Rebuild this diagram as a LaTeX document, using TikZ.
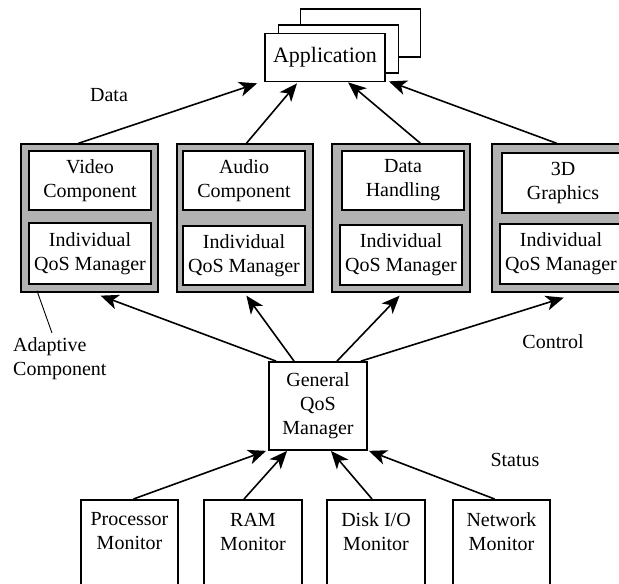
\documentclass[tikz,border=0pt]{standalone}
\usepackage{fontspec}
\setmainfont{Liberation Serif}
\usetikzlibrary{arrows.meta,calc}
\begin{document}
\begin{tikzpicture}[x=1pt,y=-1pt,
  txt/.style={font=\fontsize{20}{24}\selectfont},
  wbox/.style={draw, line width=1.7pt, fill=white, align=center, inner sep=0pt, txt},
  gbox/.style={draw, line width=1.3pt, fill=gray!60, inner sep=0pt},
  lbl/.style={align=center, inner sep=0pt, txt},
  arr/.style={line width=1.6pt, -{Stealth[length=18pt,width=15pt,inset=5pt]}},
  thin line/.style={line width=0.9pt}
]
\useasboundingbox (0,0) rectangle (619,584);

% application stack
\node[wbox, minimum width=120, minimum height=48] (app3) at (360.5,33) {};
\node[wbox, minimum width=120, minimum height=48] (app2) at (338.5,49) {};
\node[wbox, minimum width=120, minimum height=48, font=\fontsize{22}{26}\selectfont] (app) at (325,57.5) {Application};

% adaptive components (outer)
\node[gbox, minimum width=137, minimum height=148] (vidc) at (89.5,218) {};
\node[gbox, minimum width=136, minimum height=148] (audc) at (245,218) {};
\node[gbox, minimum width=138, minimum height=148] (datc) at (401,218) {};
\node[gbox, minimum width=138, minimum height=148] (gfxc) at (561,218) {};

% inner boxes
\node[wbox, minimum width=122, minimum height=59] (vid) at (90,180.5) {Video\\Component};
\node[wbox, minimum width=122, minimum height=61] (vidq) at (90,253.5) {Individual\\QoS Manager};
\node[wbox, minimum width=122, minimum height=59] (aud) at (244,180.5) {Audio\\Component};
\node[wbox, minimum width=122, minimum height=59] (audq) at (244,255.5) {Individual\\QoS Manager};
\node[wbox, minimum width=122, minimum height=59] (dat) at (403,180.5) {Data\\Handling};
\node[wbox, minimum width=122, minimum height=60] (datq) at (401,255) {Individual\\QoS Manager};
\node[wbox, minimum width=122, minimum height=60] (gfx) at (563,183) {3D\\Graphics};
\node[wbox, minimum width=122, minimum height=60] (gfxq) at (561,254) {Individual\\QoS Manager};

% general manager
\node[wbox, minimum width=98, minimum height=88] (gen) at (318,406) {General\\QoS\\Manager};

% monitors
\node[wbox, minimum width=97, minimum height=110, anchor=north] (pm) at (129.5,499) {};
\node[wbox, minimum width=98, minimum height=110, anchor=north] (rm) at (253,499) {};
\node[wbox, minimum width=98, minimum height=110, anchor=north] (dm) at (376,499) {};
\node[wbox, minimum width=97, minimum height=110, anchor=north] (nm) at (501.5,499) {};
\node[lbl] (pmt) at (129.5,531.5) {Processor\\Monitor};
\node[lbl] (rmt) at (253,531.5) {RAM\\Monitor};
\node[lbl] (dmt) at (376,531.5) {Disk I/O\\Monitor};
\node[lbl] (nmt) at (501.5,531.5) {Network\\Monitor};

% labels
\node[lbl] (datalbl) at (109,95) {Data};
\node[lbl] (ctrllbl) at (553,342) {Control};
\node[lbl] (statlbl) at (515,460) {Status};
\node[lbl, align=left, anchor=north west] (adl) at (13,337) {Adaptive\\Component};

% data arrows
\draw[arr] ($(vidc.north west)!0.42!(vidc.north east)$) -- ($(app.south west)+(-7,1)$);
\draw[arr] ($(audc.north west)!0.51!(audc.north east)$) -- ($(app.south west)!0.27!(app.south east)+(0,1)$);
\draw[arr] ($(datc.north west)!0.64!(datc.north east)$) -- ($(app.south west)!0.69!(app.south east)$);
\draw[arr] ($(gfxc.north west)!0.47!(gfxc.north east)$) -- ($(app.south east)+(3,-1)$);

% control arrows
\draw[arr] ($(gen.north west)!0.08!(gen.north east)$) -- ($(vidc.south west)!0.58!(vidc.south east)+(0,3)$);
\draw[arr] ($(gen.north west)!0.26!(gen.north east)$) -- ($(audc.south west)!0.51!(audc.south east)+(0,3)$);
\draw[arr] ($(gen.north west)!0.69!(gen.north east)$) -- ($(datc.south west)!0.49!(datc.south east)+(0,3)$);
\draw[arr] ($(gen.north west)!0.93!(gen.north east)$) -- ($(gfxc.south west)!0.52!(gfxc.south east)+(0,5)$);

% status arrows
\draw[arr] ($(pm.north west)!0.54!(pm.north east)$) -- ($(gen.south west)+(-2,0)$);
\draw[arr] ($(rm.north west)!0.41!(rm.north east)$) -- ($(gen.south west)!0.19!(gen.south east)$);
\draw[arr] ($(dm.north west)!0.46!(dm.north east)$) -- ($(gen.south west)!0.63!(gen.south east)$);
\draw[arr] ($(nm.north west)!0.43!(nm.north east)$) -- ($(gen.south east)+(1,0)$);

% adaptive component pointer
\draw[thin line] ($(vidc.south west)!0.12!(vidc.south east)+(0,-2)$) -- ($(adl.north west)+(39,-4)$);
\end{tikzpicture}
\end{document}
